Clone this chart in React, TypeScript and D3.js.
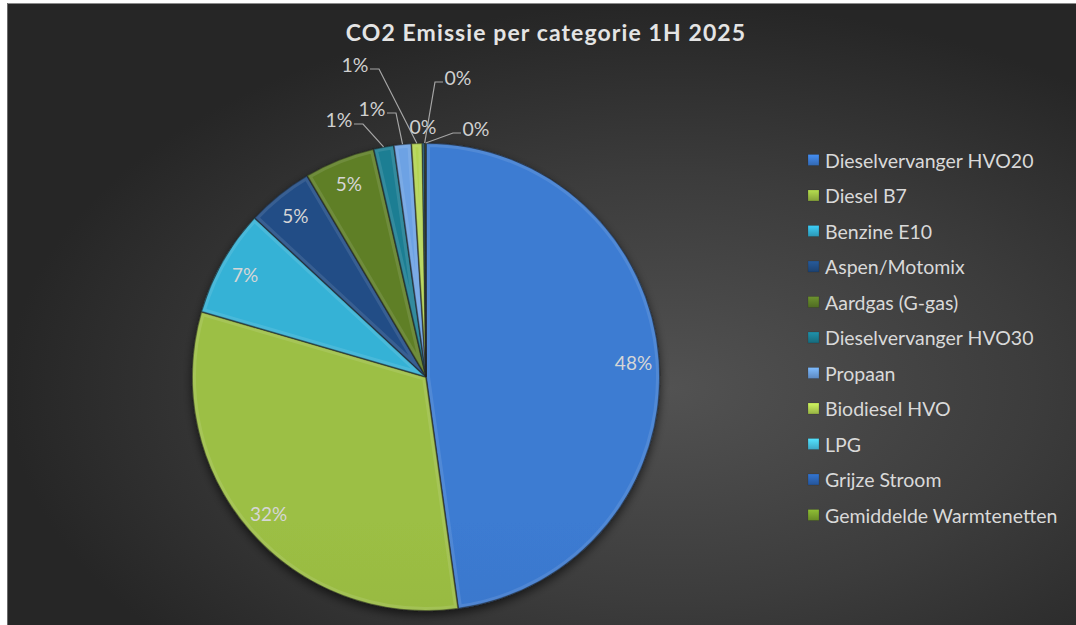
import React from "react";
import * as d3 from "d3";

const categories = [
  "Dieselvervanger HVO20",
  "Diesel B7",
  "Benzine E10",
  "Aspen/Motomix",
  "Aardgas (G-gas)",
  "Dieselvervanger HVO30",
  "Propaan",
  "Biodiesel HVO",
  "LPG",
  "Grijze Stroom",
  "Gemiddelde Warmtenetten",
];
// share of CO2 emission (%)
const values = [47.8, 31.7, 7.4, 4.6, 4.9, 1.4, 1.2, 0.75, 0.12, 0.08, 0.05];
const colors = [
  "#3A78CC",
  "#98BA42",
  "#33ADD0",
  "#214C82",
  "#5B7B27",
  "#1B7A8F",
  "#6A9DDE",
  "#AECE50",
  "#46BFE2",
  "#2B62B0",
  "#78A02C",
];
const title = "CO2 Emissie per categorie 1H 2025";

// layout of labels for the small slices (placed outside like Excel did)
const outsideLabels: Record<number, { x: number; y: number; side: "r" | "l" | "none" }> = {
  5: { x: 339, y: 119, side: "r" },
  6: { x: 372, y: 108, side: "r" },
  7: { x: 355, y: 64, side: "r" },
  8: { x: 423, y: 126, side: "none" },
  9: { x: 458, y: 77, side: "l" },
  10: { x: 476, y: 128, side: "l" },
};

const W = 1076;
const H = 625;
const CX = 426;
const CY = 377;
const R = 234;
const FONT = "Lato, 'Open Sans', sans-serif";

export default function App() {
  const pie = d3
    .pie<number>()
    .sort(null)
    .value((d) => d)
    .startAngle(0)
    .endAngle(2 * Math.PI);
  const arcs = pie(values);
  const arc = d3.arc<d3.PieArcDatum<number>>().innerRadius(0).outerRadius(R);
  const labelArc = d3.arc<d3.PieArcDatum<number>>().innerRadius(208).outerRadius(208);
  const edgeArc = d3.arc<d3.PieArcDatum<number>>().innerRadius(R).outerRadius(R);
  const total = d3.sum(values);
  const fmt = (v: number) => `${Math.round((v / total) * 100)}%`;

  const legendY = d3.scalePoint<string>().domain(categories).range([160, 515]);

  return (
    <svg
      width={W}
      height={H}
      style={{ position: "fixed", left: 0, top: 0, display: "block" }}
    >
      <defs>
        <radialGradient id="bg" cx="62%" cy="62%" r="62%">
          <stop offset="0%" stopColor="#525252" />
          <stop offset="55%" stopColor="#3c3c3c" />
          <stop offset="100%" stopColor="#262626" />
        </radialGradient>
        <filter id="shadow" x="-20%" y="-20%" width="140%" height="140%">
          <feDropShadow dx="0" dy="4" stdDeviation="5" floodColor="#000" floodOpacity="0.6" />
        </filter>
        {colors.map((c, i) => {
          const base = d3.color(c)!;
          return (
            <linearGradient
              key={i}
              id={`g${i}`}
              gradientUnits="userSpaceOnUse"
              x1={CX}
              y1={CY - R}
              x2={CX}
              y2={CY + R}
            >
              <stop offset="0%" stopColor={base.brighter(0.08).toString()} />
              <stop offset="100%" stopColor={base.darker(0.3).toString()} />
            </linearGradient>
          );
        })}
        {colors.map((c, i) => {
          const base = d3.color(c)!;
          return (
            <linearGradient key={`lg${i}`} id={`lg${i}`} x1="0" y1="0" x2="0" y2="1">
              <stop offset="0%" stopColor={base.brighter(0.5).toString()} />
              <stop offset="100%" stopColor={base.darker(0.4).toString()} />
            </linearGradient>
          );
        })}
        {arcs.map((a, i) => (
          <clipPath key={`c${i}`} id={`c${i}`}>
            <path d={arc(a) || ""} transform={`translate(${CX},${CY})`} />
          </clipPath>
        ))}
      </defs>
      <rect x={0} y={0} width={W} height={H} fill="#ffffff" />
      <rect x={7} y={3} width={W - 7} height={H - 3} fill="url(#bg)" />
      <line x1={7} y1={3.5} x2={W} y2={3.5} stroke="#8a8a8a" strokeWidth={1} />
      <line x1={7.5} y1={3} x2={7.5} y2={H} stroke="#6a6a6a" strokeWidth={1} />

      <text
        x={546}
        y={32}
        textAnchor="middle"
        dominantBaseline="central"
        fill="#E4E4E4"
        fontFamily={FONT}
        fontWeight="bold"
        fontSize={23}
        letterSpacing={1.1}
      >
        {title}
      </text>

      <g filter="url(#shadow)">
        <g transform={`translate(${CX},${CY})`}>
          {arcs.map((a, i) => (
            <path key={i} d={arc(a) || ""} fill={`url(#g${i})`} stroke="#1e1e1e" strokeOpacity={0.6} strokeWidth={1} />
          ))}
        </g>
      </g>
      {/* bevel highlight */}
      {arcs.map((a, i) => (
        <g key={`b${i}`} clipPath={`url(#c${i})`}>
          <path
            d={arc(a) || ""}
            transform={`translate(${CX},${CY})`}
            fill="none"
            stroke="#ffffff"
            strokeOpacity={0.1}
            strokeWidth={8}
          />
          <path
            d={arc(a) || ""}
            transform={`translate(${CX},${CY})`}
            fill="none"
            stroke="#000"
            strokeOpacity={0.3}
            strokeWidth={2}
          />
        </g>
      ))}

      {/* labels */}
      {arcs.map((a, i) => {
        const o = outsideLabels[i];
        if (o) {
          const [ex, ey] = edgeArc.centroid(a);
          const px = CX + ex;
          const py = CY + ey;
          let lead = null;
          if (o.side === "r") {
            const sx = o.x + 15;
            const sy = o.y + 5;
            lead = `M${sx},${sy}L${sx + 9},${sy}L${px},${py}`;
          } else if (o.side === "l") {
            const sx = o.x - 15;
            const sy = o.y + 5;
            lead = `M${sx},${sy}L${sx - 8},${sy}L${px},${py}`;
          }
          return (
            <g key={`l${i}`}>
              {lead && <path d={lead} fill="none" stroke="#A6A6A6" strokeWidth={1.2} />}
              <text
                x={o.x}
                y={o.y}
                textAnchor="middle"
                dominantBaseline="central"
                fill="#D0D0D0"
                fontFamily={FONT}
                fontSize={19.5}
              >
                {fmt(a.data)}
              </text>
            </g>
          );
        }
        const [lx, ly] = labelArc.centroid(a);
        return (
          <text
            key={`l${i}`}
            x={CX + lx}
            y={CY + ly}
            textAnchor="middle"
            dominantBaseline="central"
            fill="#D6D6D6"
            fontFamily={FONT}
            fontSize={19}
          >
            {fmt(a.data)}
          </text>
        );
      })}

      {/* legend */}
      {categories.map((c, i) => {
        const y = legendY(c)!;
        return (
          <g key={c}>
            <rect x={808} y={y - 5.5} width={11} height={11} fill={`url(#lg${i})`} stroke="#111" strokeOpacity={0.3} strokeWidth={0.5} />
            <text
              x={825}
              y={y}
              dominantBaseline="central"
              fill="#D9D9D9"
              fontFamily={FONT}
              fontSize={19.5}
            >
              {c}
            </text>
          </g>
        );
      })}
    </svg>
  );
}
